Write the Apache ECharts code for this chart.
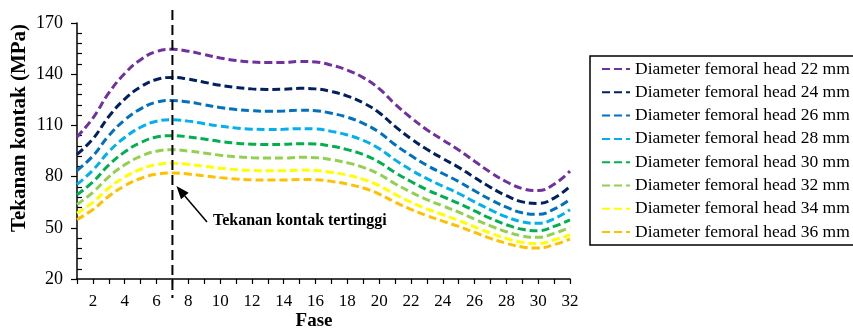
<!DOCTYPE html>
<html>
<head>
<meta charset="utf-8">
<script src="https://cdn.jsdelivr.net/npm/echarts@6/dist/echarts.min.js"></script>
<style>
html,body{margin:0;padding:0;background:#ffffff;}
#chart{width:853px;height:329px;}
</style>
</head>
<body>
<div id="chart"></div>
<script>
// data
var fase=[1,2,3,4,5,6,7,8,9,10,11,12,13,14,15,16,17,18,19,20,21,22,23,24,25,26,27,28,29,30,31,32];
var d22=[103.2,114.3,129.0,140.4,148.5,153.3,154.6,153.5,151.5,149.5,148.0,147.1,146.8,146.9,147.5,147.2,145.3,142.4,138.0,131.5,122.5,114.5,107.5,101.5,95.6,89.0,82.5,77.0,73.0,71.8,75.5,83.2];
var d24=[93.0,102.1,115.2,125.4,132.6,136.9,138.1,137.1,135.3,133.5,132.2,131.4,131.1,131.2,131.7,131.4,129.8,127.2,123.2,117.4,109.4,102.2,96.0,90.6,85.4,79.5,73.7,68.8,65.2,64.3,67.4,74.3];
var d26=[83.5,92.1,104.0,113.2,119.7,123.6,124.6,123.7,122.1,120.5,119.3,118.6,118.3,118.4,118.9,118.6,117.1,114.8,111.2,106.0,98.7,92.3,86.6,81.8,77.1,71.7,66.5,62.1,58.8,57.9,60.9,66.7];
var d28=[75.4,83.8,94.6,102.9,108.9,112.4,113.3,112.5,111.0,109.6,108.5,107.8,107.6,107.7,108.1,107.9,106.5,104.4,101.2,96.4,89.8,83.9,78.8,74.4,70.1,65.2,60.5,56.4,53.5,52.6,55.3,60.6];
var d30=[69.4,76.9,86.8,94.5,99.9,103.2,104.0,103.3,102.0,100.6,99.6,99.0,98.8,98.9,99.3,99.1,97.8,95.8,92.9,88.5,82.4,77.1,72.3,68.3,64.3,59.9,55.5,51.8,49.1,48.3,50.8,54.7];
var d32=[63.7,70.8,79.9,86.9,91.9,94.9,95.7,95.0,93.8,92.5,91.6,91.1,90.9,90.9,91.3,91.1,89.9,88.1,85.4,81.4,75.8,70.9,66.5,62.8,59.2,55.1,51.1,47.7,45.2,44.4,46.7,50.3];
var d34=[58.6,64.9,73.3,79.7,84.3,87.1,87.8,87.2,86.1,84.9,84.1,83.6,83.4,83.4,83.8,83.6,82.5,80.9,78.4,74.7,69.6,65.0,61.1,57.7,54.3,50.6,46.9,43.7,41.5,40.8,42.9,45.8];
var d36=[54.8,60.7,68.5,74.6,78.9,81.4,82.1,81.5,80.4,79.4,78.6,78.1,78.0,78.0,78.3,78.2,77.2,75.6,73.3,69.8,65.0,60.8,57.1,53.9,50.8,47.3,43.8,40.9,38.8,38.1,40.1,43.4];
var namaSeri=['Diameter femoral head 22 mm','Diameter femoral head 24 mm','Diameter femoral head 26 mm','Diameter femoral head 28 mm','Diameter femoral head 30 mm','Diameter femoral head 32 mm','Diameter femoral head 34 mm','Diameter femoral head 36 mm'];
var warna=['#7030A0','#002060','#0070C0','#00B0F0','#00B050','#92D050','#FFFF00','#FFC000'];
var yTicks=[20,50,80,110,140,170];
var faseMax=7; // fase dengan tekanan tertinggi

var semuaData=[d22,d24,d26,d28,d30,d32,d34,d36];
var fontSerif='Liberation Serif';

var chart=echarts.init(document.getElementById('chart'),null,{renderer:'canvas'});

var series=[];
for(var i=0;i<semuaData.length;i++){
	var pts=[];
	for(var j=0;j<fase.length;j++){
		pts.push([fase[j],semuaData[i][j]]);
	}
	series.push({
		name:namaSeri[i],
		type:'line',
		smooth:0.45,
		symbol:'none',
		data:pts,
		color:warna[i],
		lineStyle:{width:3,type:[8,4],color:warna[i]}
	});
}

var option={
	backgroundColor:'#ffffff',
	animation:false,
	grid:{left:77,right:283,top:23,bottom:50},
	legend:{
		orient:'vertical',
		left:590,
		top:56,
		padding:[4,8,4,11],
		itemWidth:28,
		itemHeight:14,
		itemGap:5.3,
		borderColor:'#000',
		borderWidth:1.5,
		data:namaSeri,
		itemStyle:{color:'rgba(0,0,0,0)',borderWidth:0},
		textStyle:{fontFamily:fontSerif,fontSize:17.5,lineHeight:17,color:'#000'}
	},
	xAxis:{
		type:'value',
		min:fase[0],
		max:fase[fase.length-1],
		interval:1,
		splitLine:{show:false},
		axisLine:{lineStyle:{color:'#000',width:1.5}},
		axisTick:{length:5,lineStyle:{color:'#000',width:1.2}},
		axisLabel:{
			margin:14,
			fontFamily:fontSerif,fontSize:17,color:'#000',
			formatter:function(v){return v%2===0?String(v):'';}
		}
	},
	yAxis:[{
		type:'value',
		min:yTicks[0],
		max:yTicks[yTicks.length-1],
		interval:30,
		splitLine:{show:false},
		axisLine:{show:true,lineStyle:{color:'#000',width:1.5}},
		axisTick:{show:true,length:6,lineStyle:{color:'#000',width:1.2}},
		axisLabel:{margin:14,fontFamily:fontSerif,fontSize:18,color:'#000'}
	},{
		type:'value',
		position:'left',
		min:yTicks[0],
		max:yTicks[yTicks.length-1],
		interval:30,
		splitLine:{show:false},
		axisLine:{show:false},
		axisLabel:{show:false},
		axisTick:{show:false,inside:true},
		minorTick:{show:true,splitNumber:5,length:5,lineStyle:{color:'#000',width:1.2}}
	}],
	series:series
};
chart.setOption(option);

// garis vertikal & panah anotasi
var px=chart.convertToPixel({xAxisIndex:0},faseMax);
var tip=[px+4,186];
var ekor=[207,222];
var dx=tip[0]-ekor[0],dy=tip[1]-ekor[1];
var len=Math.sqrt(dx*dx+dy*dy);
var ux=dx/len,uy=dy/len;
var bx=tip[0]-ux*13,by=tip[1]-uy*13;
var nx=-uy,ny=ux;

chart.setOption({
	graphic:[
		{type:'line',shape:{x1:px,y1:10,x2:px,y2:298},style:{stroke:'#000',lineWidth:2,lineDash:[10,5]},z:100},
		{type:'line',shape:{x1:ekor[0],y1:ekor[1],x2:bx,y2:by},style:{stroke:'#000',lineWidth:1.5},z:100},
		{type:'polygon',shape:{points:[tip,[bx+nx*5,by+ny*5],[bx-nx*5,by-ny*5]]},style:{fill:'#000'},z:100},
		{type:'text',left:213,top:213,style:{text:'Tekanan kontak tertinggi',fontFamily:fontSerif,fontWeight:'bold',fontSize:16,fill:'#000'},z:100},
		{type:'text',x:20,y:128,rotation:Math.PI/2,style:{text:'Tekanan kontak (MPa)',fontFamily:fontSerif,fontWeight:'bold',fontSize:21,fill:'#000',align:'center',verticalAlign:'middle'}},
		{type:'text',x:314,y:321,style:{text:'Fase',fontFamily:fontSerif,fontWeight:'bold',fontSize:19,fill:'#000',align:'center',verticalAlign:'middle'}}
	]
});
</script>
</body>
</html>
